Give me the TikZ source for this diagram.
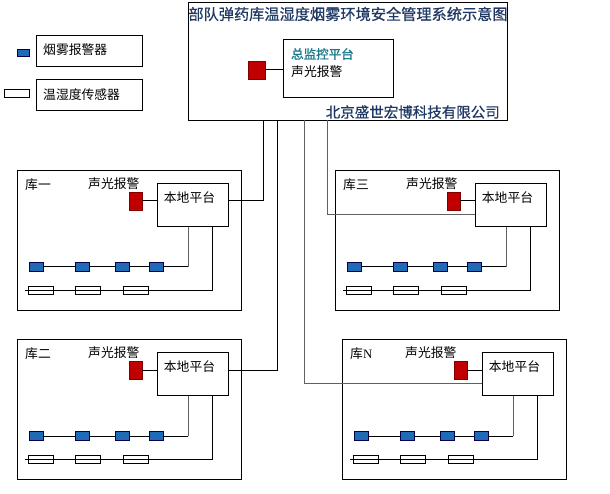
\documentclass[tikz,border=0pt]{standalone}
\usepackage{fontspec}
\setmainfont{Noto Sans CJK SC}
\newfontfamily\cjkbold[FakeBold=1.5]{Noto Sans CJK SC}
\newfontfamily\cjkmed[FakeBold=0.6]{Noto Sans CJK SC}
\newfontfamily\latinserif{Liberation Serif}
\usepackage{xcolor}
\usetikzlibrary{positioning}
\definecolor{alarmred}{HTML}{C00000}
\definecolor{smokeblue}{HTML}{1F6BB5}
\definecolor{titleblue}{HTML}{1F3864}
\definecolor{monitorteal}{HTML}{1B7A8C}
\definecolor{wiregray}{HTML}{606060}
\tikzset{
	wbox/.style={draw, line width=1pt, inner sep=0pt, anchor=north west},
	alarm/.style={draw=red!50!black, fill=alarmred, inner sep=0pt, minimum width=13pt, minimum height=18pt},
	smoke/.style={draw=blue!30!black, fill=smokeblue, inner sep=0pt, minimum width=14pt, minimum height=9pt},
	sensor/.style={draw, inner sep=0pt, minimum width=25pt, minimum height=8pt},
	wire/.style={line width=1pt},
	txt/.style={inner sep=0pt, font=\fontsize{12.8}{14}\selectfont}
}
\newcommand{\depot}[5]{
	%outer box
	\node[wbox, minimum width=224pt, minimum height=140pt] (#1) at (#2,#3) {};
	\node[txt, anchor=west] (#1-name) at (#2+8,#3+15) {#4};
	\node[txt, anchor=west] (#1-altxt) at (#2+#5,#3+14) {声光报警};
	%
	%local platform
	\node[wbox, minimum width=71pt, minimum height=43pt] (#1-pt) at (#2+140,#3+13) {};
	\node[txt] (#1-pttxt) at (#2+172.5,#3+28) {本地平台};
	\coordinate (#1-in) at (#2+140,#3+44.5);
	\node[alarm] (#1-al) at (#2+118.5,#3+31) {};
	\draw[wire] (#1-al) -- (#1-al -| #1-pt.west);
	%
	%smoke alarms
	\foreach \i/\dx in {1/19,2/65,3/105,4/139}
		\node[smoke] (#1-s\i) at (#2+\dx,#3+97) {};
	\coordinate (#1-sc) at (#2+171,#3+97);
	\draw[wire] (#1-s1) -- (#1-s2) -- (#1-s3) -- (#1-s4) -- (#1-sc);
	\draw[wire, wiregray] (#1-sc) -- (#1-sc |- #1-pt.south);
	%
	%sensors
	\coordinate (#1-tl) at (#2+8,#3+120);
	\coordinate (#1-tc) at (#2+195,#3+120);
	\draw[wire] (#1-tl) -- (#1-tc) -- (#1-tc |- #1-pt.south);
	\foreach \i/\dx in {1/24,2/71,3/119}
		\node[sensor] (#1-t\i) at (#2+\dx,#3+120) {};
}
\begin{document}
\begin{tikzpicture}[x=1pt, y=-1pt]
	\fill[white] (0,0) rectangle (610,494);
	\useasboundingbox (0,0) rectangle (610,494);
	%
	%main platform
	\node[wbox, minimum width=319pt, minimum height=118pt] (main) at (188,2) {};
	\node[txt, font=\cjkmed\fontsize{15.2}{17}\selectfont, text=titleblue] (title) at (348,14) {部队弹药库温湿度烟雾环境安全管理系统示意图};
	\node[txt, font=\cjkmed\fontsize{14.5}{16}\selectfont, text=titleblue, anchor=east] (company) at (500,112) {北京盛世宏博科技有限公司};
	\node[wbox, minimum width=110pt, minimum height=58pt] (center) at (283,39) {};
	\node[txt, anchor=west, text=monitorteal, font=\cjkbold\fontsize{12.5}{14}\selectfont] (centertxt) at (291,54) {总监控平台};
	\node[txt, anchor=west] (centeraltxt) at (291,72) {声光报警};
	\node[alarm, minimum width=17pt] (centeral) at (256.5,70) {};
	\draw[wire] (centeral) -- (centeral -| center.west);
	%
	%legend
	\node[smoke, minimum width=12pt, minimum height=7pt] (legsmoke) at (23,52.5) {};
	\node[wbox, minimum width=106pt, minimum height=31pt] (legbox1) at (36,35) {};
	\node[txt, anchor=west] (legtxt1) at (43,50) {烟雾报警器};
	\node[sensor] (legsensor) at (16.5,93) {};
	\node[wbox, minimum width=106pt, minimum height=31pt] (legbox2) at (36,79) {};
	\node[txt, anchor=west] (legtxt2) at (43,95) {温湿度传感器};
	%
	%depots
	\depot{ku1}{17}{170}{库一}{71}
	\depot{ku3}{335}{170}{库三}{71}
	\depot{ku2}{17}{339}{库二}{71}
	\depot{kuN}{342}{339}{库{\latinserif N}}{63}
	%
	%links
	\coordinate (upA) at (263,120);
	\coordinate (upB) at (277,120);
	\coordinate (upC) at (304,120);
	\coordinate (upD) at (327,120);
	\draw[wire] (upA) |- (ku1-al -| ku1-pt.east);
	\draw[wire] (upB) |- (ku2-al -| ku2-pt.east);
	\draw[wire, wiregray] (upC) |- (kuN-in);
	\draw[wire, wiregray] (upD) |- (ku3-in);
\end{tikzpicture}
\end{document}
